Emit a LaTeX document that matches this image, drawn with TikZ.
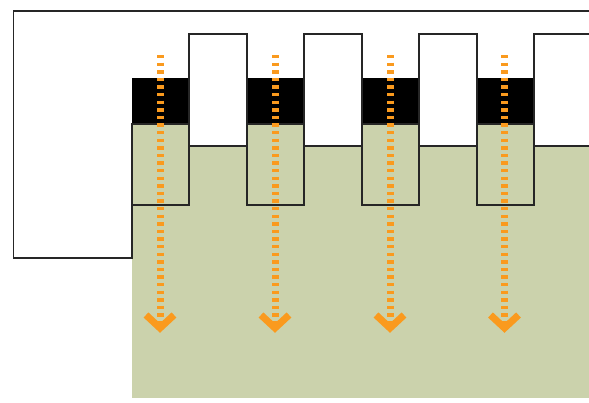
\documentclass[tikz,border=0pt]{standalone}
\definecolor{sage}{RGB}{203,210,172}
\definecolor{flow}{RGB}{250,154,30}
\tikzset{
  outline/.style={draw=black!85,line width=1.1pt},
  flowline/.style={draw=flow,line width=7pt,dash pattern=on 3.4pt off 4.2pt},
  flowhead/.style={draw=flow,line width=7pt,miter limit=10}
}
\begin{document}
\begin{tikzpicture}[x=1pt,y=-1pt]
\useasboundingbox (0,0) rectangle (589,402);
\fill[sage] (132,146) rectangle (589,398);
\draw[outline] (589,11) -- (13.5,11) -- (13.5,258) -- (132,258) -- (132,205);
\foreach \x in {132,247,362,477}{
  \fill[black] (\x,78) rectangle ++(57,46);
  \draw[outline,fill=sage] (\x,124) rectangle ++(57,81);
}
\foreach \x in {189,304,419}{
  \draw[outline,fill=white] (\x,146) -- (\x,34) -- ++(58,0) -- ++(0,112);
}
\draw[outline,fill=white] (589,34) -- (534,34) -- (534,146) -- (589,146);
\foreach \x in {189,304,419,534}{
  \draw[outline] (\x,146) -- ++(58,0);
}
\foreach \x in {160,275,390,504.5}{
  \draw[flowline] (\x,55) -- (\x,326);
  \draw[flowhead] (\x-14,315) -- (\x,328) -- (\x+14,315);
}
\end{tikzpicture}
\end{document}
